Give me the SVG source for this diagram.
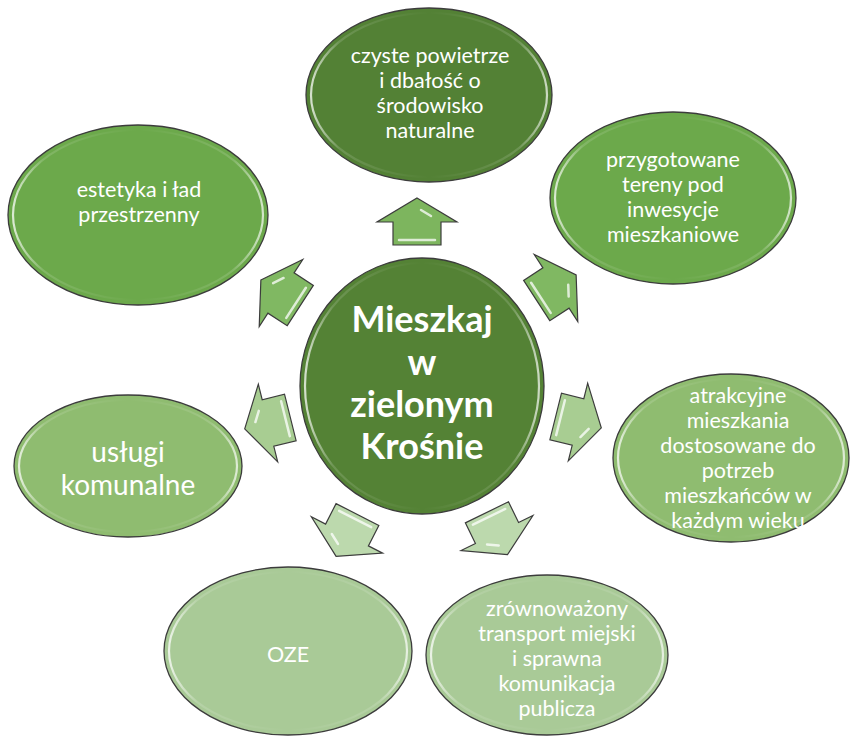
<svg xmlns="http://www.w3.org/2000/svg" width="851" height="737" viewBox="0 0 851 737">
<defs>
<style>
.node{stroke:#3c3c3c;stroke-width:1.3}
.rim{fill:none;stroke:url(#rimGrad);stroke-width:2.2}
.txt{font-family:Lato,"Open Sans","Liberation Sans",sans-serif;fill:#ffffff;text-anchor:middle}
.t20{font-size:21.5px}
.big{font-size:28px}
.ctr{font-size:36px;font-weight:bold}
.arr{stroke:#3c3c3c;stroke-width:1.2;stroke-linejoin:miter}
.hl{fill:none;stroke:#ffffff;stroke-opacity:0.75;stroke-width:2.5;stroke-linecap:round}
</style>
<linearGradient id="rimGrad" x1="0" y1="0" x2="1" y2="0">
<stop offset="0" stop-color="#ffffff" stop-opacity="0.75"/>
<stop offset="0.12" stop-color="#ffffff" stop-opacity="0.15"/>
<stop offset="0.5" stop-color="#ffffff" stop-opacity="0"/>
<stop offset="0.88" stop-color="#ffffff" stop-opacity="0.15"/>
<stop offset="1" stop-color="#ffffff" stop-opacity="0.7"/>
</linearGradient>
<path id="arrow" d="M0,-24 L40,0 L24,0 L24,23 L-24,23 L-24,0 L-40,0 Z"/>
</defs>
<rect width="851" height="737" fill="#ffffff"/>

<g id="connectors">
<g transform="translate(417,222)"><use href="#arrow" class="arr" fill="#7db55e"/><path class="hl" d="M-18,18 L18,18 M4,-12 L14,-6"/></g>
<g transform="translate(281,293) rotate(-57)"><use href="#arrow" class="arr" fill="#80b862"/><path class="hl" d="M-18,18 L18,18 M4,-12 L14,-6"/></g>
<g transform="translate(556,288) rotate(57)"><use href="#arrow" class="arr" fill="#80b862"/><path class="hl" d="M-18,18 L18,18 M4,-12 L14,-6"/></g>
<g transform="translate(578,422) rotate(104)"><use href="#arrow" class="arr" fill="#a8cd92"/><path class="hl" d="M-18,18 L18,18 M4,-12 L14,-6"/></g>
<g transform="translate(268,423) rotate(-104)"><use href="#arrow" class="arr" fill="#a8cd92"/><path class="hl" d="M-18,18 L18,18 M4,-12 L14,-6"/></g>
<g transform="translate(347,535) rotate(-153)"><use href="#arrow" class="arr" fill="#bcd9ad"/><path class="hl" d="M-18,18 L18,18 M4,-12 L14,-6"/></g>
<g transform="translate(497,533) rotate(154)"><use href="#arrow" class="arr" fill="#bcd9ad"/><path class="hl" d="M-18,18 L18,18 M4,-12 L14,-6"/></g>
</g>

<g id="node-center">
<ellipse class="node" cx="422" cy="386" rx="122" ry="128" fill="#548235"/>
<ellipse class="rim" cx="422" cy="386" rx="117" ry="123"/>
<text class="txt ctr" x="422" y="332">Mieszkaj</text>
<text class="txt ctr" x="422" y="375">w</text>
<text class="txt ctr" x="422" y="417">zielonym</text>
<text class="txt ctr" x="422" y="459">Krośnie</text>
</g>

<g id="node-top">
<ellipse class="node" cx="429" cy="95" rx="123" ry="87" fill="#538135"/>
<ellipse class="rim" cx="429" cy="95" rx="118" ry="82"/>
<text class="txt t20" x="430" y="63">czyste powietrze</text>
<text class="txt t20" x="430" y="88">i dbałość o</text>
<text class="txt t20" x="430" y="113">środowisko</text>
<text class="txt t20" x="430" y="138">naturalne</text>
</g>

<g id="node-lefttop">
<ellipse class="node" cx="138" cy="215" rx="130" ry="90" fill="#6ca94b"/>
<ellipse class="rim" cx="138" cy="215" rx="125" ry="85"/>
<text class="txt t20" x="139" y="197">estetyka i ład</text>
<text class="txt t20" x="139" y="222">przestrzenny</text>
</g>

<g id="node-righttop">
<ellipse class="node" cx="673" cy="198" rx="123" ry="86" fill="#6ca94b"/>
<ellipse class="rim" cx="673" cy="198" rx="118" ry="81"/>
<text class="txt t20" x="673" y="167">przygotowane</text>
<text class="txt t20" x="673" y="192">tereny pod</text>
<text class="txt t20" x="673" y="217">inwesycje</text>
<text class="txt t20" x="673" y="242">mieszkaniowe</text>
</g>

<g id="node-right">
<ellipse class="node" cx="731" cy="458" rx="118" ry="84" fill="#8fbc70"/>
<ellipse class="rim" cx="731" cy="458" rx="113" ry="79"/>
<text class="txt t20" x="738" y="403">atrakcyjne</text>
<text class="txt t20" x="738" y="428">mieszkania</text>
<text class="txt t20" x="738" y="453">dostosowane do</text>
<text class="txt t20" x="738" y="478">potrzeb</text>
<text class="txt t20" x="738" y="503">mieszkańców w</text>
<text class="txt t20" x="738" y="528">każdym wieku</text>
</g>

<g id="node-left">
<ellipse class="node" cx="128" cy="466" rx="114" ry="71" fill="#8fbc70"/>
<ellipse class="rim" cx="128" cy="466" rx="109" ry="66"/>
<text class="txt big" x="128" y="462">usługi</text>
<text class="txt big" x="128" y="495">komunalne</text>
</g>

<g id="node-oze">
<ellipse class="node" cx="288" cy="651" rx="124" ry="84" fill="#a9ca97"/>
<ellipse class="rim" cx="288" cy="651" rx="119" ry="79"/>
<text class="txt t20" x="288" y="662">OZE</text>
</g>

<g id="node-transport">
<ellipse class="node" cx="547" cy="655" rx="121" ry="80" fill="#a9ca97"/>
<ellipse class="rim" cx="547" cy="655" rx="116" ry="75"/>
<text class="txt t20" x="557" y="616">zrównoważony</text>
<text class="txt t20" x="557" y="641">transport miejski</text>
<text class="txt t20" x="557" y="666">i sprawna</text>
<text class="txt t20" x="557" y="691">komunikacja</text>
<text class="txt t20" x="557" y="716">publicza</text>
</g>
</svg>
